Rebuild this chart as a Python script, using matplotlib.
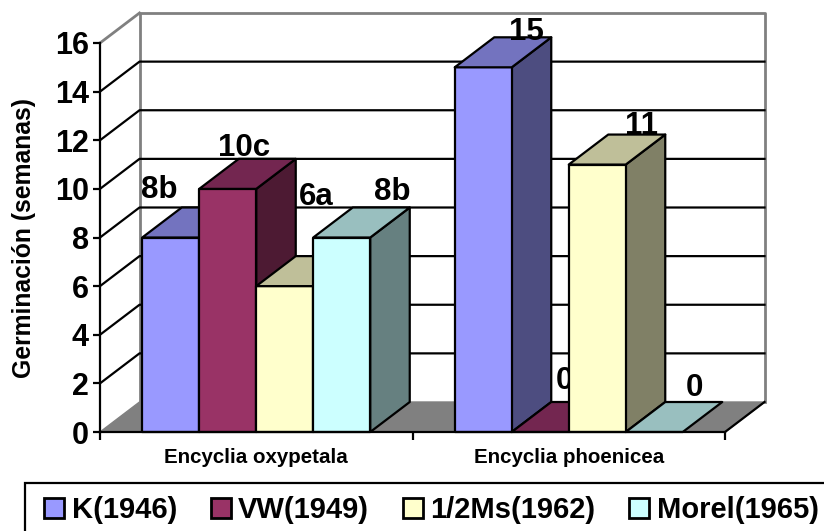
import matplotlib
matplotlib.use('Agg')
import matplotlib.pyplot as plt
from matplotlib.patches import Polygon, Rectangle

categories = ['Encyclia oxypetala', 'Encyclia phoenicea']
series = ['K(1946)', 'VW(1949)', '1/2Ms(1962)', 'Morel(1965)']
k_1946 = [8, 15]
vw_1949 = [10, 0]
ms_1962 = [6, 11]
morel_1965 = [8, 0]
values = [k_1946, vw_1949, ms_1962, morel_1965]
k_labels = ['8b', '15']
vw_labels = ['10c', '0']
ms_labels = ['6a', '11']
morel_labels = ['8b', '0']
labels = [k_labels, vw_labels, ms_labels, morel_labels]
y_ticks = list(range(0, 18, 2))

face_colors = ['#9999FF', '#993366', '#FFFFCC', '#CCFFFF']
top_colors = ['#7373BF', '#732650', '#BFBF99', '#99BFBF']
side_colors = ['#4D4D80', '#4D1A33', '#808066', '#668080']

# label offsets from the bar's front top centre, in pixels
label_dx = [[-11, 43], [16, 24], [31, 44], [50, 40]]
label_dy = [[39, 27], [33, 43], [81, 31], [38, 36]]

W, H = 824, 531
plt.rcParams['font.family'] = ['Liberation Sans', 'DejaVu Sans']
plt.rcParams['font.weight'] = 'bold'

fig = plt.figure(figsize=(W / 100, H / 100), dpi=100)
ax = fig.add_axes([100 / W, 1 - 432 / H, 625 / W, 389 / H])
ax.set_xlim(0, 2)
ax.set_ylim(0, 16)
ax.patch.set_visible(False)

px_x = 2 / 625
px_y = 16 / 389
depth_x = 39.5 * px_x
depth_y = 30 * px_y
bar_w = 0.1824
gap = (1 - 4 * bar_w) / 2

# floor and back wall
grey = '#808080'
ax.add_patch(Polygon([(0, 0), (2, 0), (2 + depth_x, depth_y), (depth_x, depth_y)],
                     fc=grey, ec=grey, lw=1, clip_on=False, zorder=1))
ax.plot([depth_x, depth_x, 2 + depth_x, 2 + depth_x],
        [depth_y, 16 + depth_y, 16 + depth_y, depth_y],
        color=grey, lw=2, clip_on=False, zorder=1)
ax.plot([0, depth_x], [16, 16 + depth_y], color=grey, lw=2, clip_on=False, zorder=1)
for t in y_ticks[1:-1]:
    ax.plot([0, depth_x, 2 + depth_x], [t, t + depth_y, t + depth_y],
            color='black', lw=1.6, clip_on=False, zorder=1.5)
ax.plot([2, 2 + depth_x], [0, depth_y], color='black', lw=1.6, clip_on=False, zorder=1.5)

# bars, painted left to right
z = 2
for g in range(len(categories)):
    for s in range(len(series)):
        v = values[s][g]
        x0 = g + gap + s * bar_w
        x1 = x0 + bar_w
        kw = dict(ec='black', lw=1.6, clip_on=False, joinstyle='round')
        if v > 0:
            ax.add_patch(Polygon([(x1, 0), (x1 + depth_x, depth_y), (x1 + depth_x, v + depth_y), (x1, v)],
                                 fc=side_colors[s], zorder=z, **kw))
            ax.add_patch(Rectangle((x0, 0), bar_w, v, fc=face_colors[s], zorder=z, **kw))
        ax.add_patch(Polygon([(x0, v), (x1, v), (x1 + depth_x, v + depth_y), (x0 + depth_x, v + depth_y)],
                             fc=top_colors[s], zorder=z, **kw))
        ax.text((x0 + x1) / 2 + label_dx[s][g] * px_x, v + label_dy[s][g] * px_y, labels[s][g],
                ha='center', va='baseline', fontsize=22.5, fontweight='bold',
                zorder=z, clip_on=False)
        z += 1

# axes
for name in ['top', 'right']:
    ax.spines[name].set_visible(False)
for name in ['left', 'bottom']:
    ax.spines[name].set_linewidth(1.6)
    ax.spines[name].set_zorder(50)
ax.set_yticks(y_ticks)
ax.set_xticks([0, 1, 2])
ax.set_xticklabels([])
ax.tick_params(axis='y', labelsize=22, width=1.6, length=5, pad=3)
ax.tick_params(axis='x', width=1.6, length=6)
for i, name in enumerate(categories):
    ax.text(i + 0.5, -31 * px_y, name, ha='center', va='baseline', fontsize=14.8, fontweight='bold')
fig.text(24 / W, 1 - 238 / H, 'Germinación (semanas)', rotation=90, ha='center', va='center',
         fontsize=17.8, fontweight='bold')

# legend
fig.add_artist(Rectangle((25 / W, -10 / H), (W + 10) / W, 58 / H, transform=fig.transFigure,
                         fc='white', ec='black', lw=1.6))
legend_x = [44, 211, 403, 629]
legend_text_x = [72, 238, 430, 657]
for s, name in enumerate(series):
    fig.add_artist(Rectangle((legend_x[s] / W, 1 - 518 / H), 20 / W, 20 / H, transform=fig.transFigure,
                             fc=face_colors[s], ec='black', lw=2))
    fig.text(legend_text_x[s] / W, 1 - 518 / H, name, fontsize=21, fontweight='bold',
             ha='left', va='baseline')

fig.savefig('out.png', dpi=100)
